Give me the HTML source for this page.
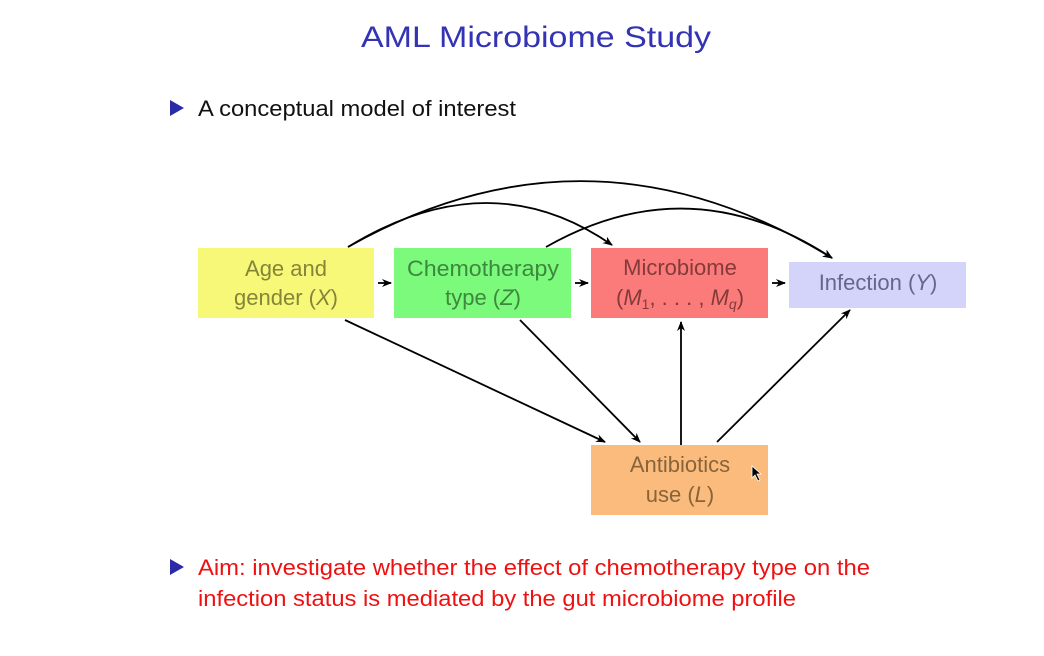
<!DOCTYPE html>
<html><head><style>
html,body{margin:0;padding:0;background:#fff;}
svg{display:block;font-family:"Liberation Sans",sans-serif;}
</style></head><body>
<svg width="1044" height="656" viewBox="0 0 1044 656">
<defs><marker id="a" markerWidth="10" markerHeight="8" refX="9" refY="4" orient="auto" markerUnits="userSpaceOnUse"><path d="M0,0 L10,4 L0,8 L3,4 Z" fill="#000"/></marker></defs>
<text x="536" y="47" text-anchor="middle" font-size="30" fill="#3333b3" textLength="350" lengthAdjust="spacingAndGlyphs">AML Microbiome Study</text>
<path d="M170,100 L184,108 L170,116 Z" fill="#2b2ba8"/>
<text x="198" y="116" font-size="22" fill="#111" textLength="318" lengthAdjust="spacingAndGlyphs">A conceptual model of interest</text>
<rect x="198" y="248" width="176" height="70" fill="#f8f878"/>
<rect x="394" y="248" width="177" height="70" fill="#7cfa7c"/>
<rect x="591" y="248" width="177" height="70" fill="#fb7b7b"/>
<rect x="789" y="262" width="177" height="46" fill="#d4d4fa"/>
<rect x="591" y="445" width="177" height="70" fill="#fbbb7c"/>
<g font-size="22" text-anchor="middle">
<text x="286" y="276" fill="#85853a">Age and</text>
<text x="286" y="305" fill="#85853a">gender (<tspan font-style="italic">X</tspan>)</text>
<text x="483" y="276" fill="#3c883c" textLength="152" lengthAdjust="spacingAndGlyphs">Chemotherapy</text>
<text x="483" y="305" fill="#3c883c">type (<tspan font-style="italic">Z</tspan>)</text>
<text x="680" y="275" fill="#853a3a">Microbiome</text>
<text x="680" y="305" fill="#853a3a">(<tspan font-style="italic">M</tspan><tspan font-size="14" dy="4">1</tspan><tspan dy="-4">, . . . , </tspan><tspan font-style="italic">M</tspan><tspan font-size="14" font-style="italic" dy="4">q</tspan><tspan dy="-4">)</tspan></text>
<text x="878" y="290" fill="#66668a">Infection (<tspan font-style="italic">Y</tspan>)</text>
<text x="680" y="472" fill="#88643a">Antibiotics</text>
<text x="680" y="502" fill="#88643a">use (<tspan font-style="italic">L</tspan>)</text>
</g>
<g stroke="#000" stroke-width="1.8" fill="none" marker-end="url(#a)">
<path d="M348,247 Q590,110 832,258"/>
<path d="M348,247 Q490,160 612,245"/>
<path d="M546,247 Q690,165 832,258"/>
<path d="M378,283 L391,283"/>
<path d="M575,283 L588,283"/>
<path d="M772,283 L785,283"/>
<path d="M345,320 L605,442"/>
<path d="M520,320 L640,442"/>
<path d="M681,445 L681,322"/>
<path d="M717,442 L850,310"/>
</g>
<path d="M752,466 L752,478 L755,475 L758,481 L760,480 L757,474 L761,474 Z" fill="#000" stroke="#fff" stroke-width="0.8"/>
<path d="M170,559 L184,567 L170,575 Z" fill="#2b2ba8"/>
<text x="198" y="575" font-size="22" fill="#ee1111" textLength="672" lengthAdjust="spacingAndGlyphs">Aim: investigate whether the effect of chemotherapy type on the</text>
<text x="198" y="606" font-size="22" fill="#ee1111" textLength="598" lengthAdjust="spacingAndGlyphs">infection status is mediated by the gut microbiome profile</text>
</svg>
</body></html>
